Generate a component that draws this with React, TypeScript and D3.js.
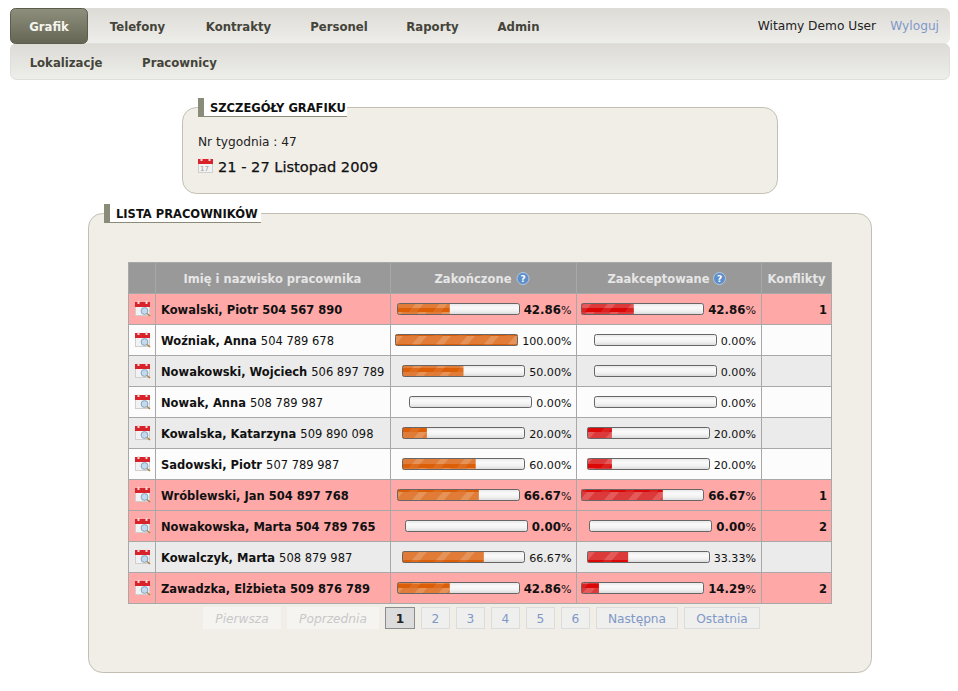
import * as d3 from 'd3';
import React, { useEffect, useRef } from 'react';

const menuTabs = ['Grafik', 'Telefony', 'Kontrakty', 'Personel', 'Raporty', 'Admin'];
const subTabs = ['Lokalizacje', 'Pracownicy'];
const headers = ['', 'Imię i nazwisko pracownika', 'Zakończone', 'Zaakceptowane', 'Konflikty'];
const names = ['Kowalski, Piotr', 'Woźniak, Anna', 'Nowakowski, Wojciech', 'Nowak, Anna', 'Kowalska, Katarzyna', 'Sadowski, Piotr', 'Wróblewski, Jan', 'Nowakowska, Marta', 'Kowalczyk, Marta', 'Zawadzka, Elżbieta'];
const phones = ['504 567 890', '504 789 678', '506 897 789', '508 789 987', '509 890 098', '507 789 987', '504 897 768', '504 789 765', '508 879 987', '509 876 789'];
const finished = [42.86, 100, 50, 0, 20, 60, 66.67, 0, 66.67, 42.86];
const accepted = [42.86, 0, 0, 0, 20, 20, 66.67, 0, 33.33, 14.29];
const conflicts = [1, 0, 0, 0, 0, 0, 1, 2, 0, 2];
const pages = ['Pierwsza', 'Poprzednia', '1', '2', '3', '4', '5', '6', 'Następna', 'Ostatnia'];

const font = '"DejaVu Sans", sans-serif';
const boldSize = 11.5;
const textSize = 12.2;
const smallSize = 11.1;
const labelBoldSize = 11.8;

const App: React.FC = () => {
  const ref = useRef<SVGSVGElement>(null);

  useEffect(() => {
    if (!ref.current) return;
    const svg = d3.select(ref.current);
    svg.selectAll('*').remove();
    svg.attr('font-family', font).attr('font-size', textSize);

    const defs = svg.append('defs');
    const gradient = (id: string, stops: string[]) => {
      const g = defs.append('linearGradient').attr('id', id).attr('x1', 0).attr('y1', 0).attr('x2', 0).attr('y2', 1);
      stops.forEach((c, i) => g.append('stop').attr('offset', i / (stops.length - 1)).attr('stop-color', c));
    };
    gradient('nav', ['#dcdbd6', '#eeeeea']);
    gradient('active', ['#8e8f7c', '#646553']);
    gradient('track', ['#e6e6e6', '#fafafa', '#f2f2f2', '#d8d8d8']);

    // diagonal stripes on the progress fill
    const stripes = (id: string, base: string, light: string, lighter: string) => {
      const p = defs.append('pattern').attr('id', id).attr('width', 24).attr('height', 12)
        .attr('patternUnits', 'userSpaceOnUse');
      p.append('rect').attr('width', 24).attr('height', 12).attr('fill', base);
      p.append('rect').attr('width', 24).attr('height', 8).attr('fill', light);
      p.append('path').attr('d', 'M4 8 L11 0 L19 0 L12 8 Z').attr('fill', lighter);
      p.append('path').attr('d', 'M1 12 L4 8 L12 8 L9 12 Z').attr('fill', light).attr('opacity', 0.5);
    };
    stripes('orange', '#dc5f08', '#e07c38', '#e59358');
    stripes('red', '#dc0808', '#dc3a3a', '#e45a5a');

    const measure = (text: string, weight = 'normal', size = textSize) => {
      const t = svg.append('text').attr('font-weight', weight).attr('font-size', size).text(text);
      const w = (t.node() as SVGTextElement).getComputedTextLength();
      t.remove();
      return w;
    };

    const calendar = (x: number, y: number, search: boolean) => {
      const g = svg.append('g').attr('transform', `translate(${x},${y})`);
      g.append('rect').attr('x', 0.5).attr('y', 1.5).attr('width', 14).attr('height', 13).attr('fill', '#f2f2f2').attr('stroke', '#cfcfcf');
      g.append('rect').attr('x', 0).attr('y', 1).attr('width', 15).attr('height', 5).attr('fill', '#d8232a');
      [3.5, 11.5].forEach(cx => g.append('rect').attr('x', cx - 1).attr('y', 0).attr('width', 2).attr('height', 3).attr('fill', '#f4dcdc'));
      if (search) {
        g.append('circle').attr('cx', 9.5).attr('cy', 10).attr('r', 3.4).attr('fill', '#c4d9ec').attr('stroke', '#84a4c4');
        g.append('line').attr('x1', 12).attr('y1', 12.5).attr('x2', 15).attr('y2', 15).attr('stroke', '#b08040').attr('stroke-width', 1.5);
      } else {
        g.append('text').attr('x', 6.5).attr('y', 13).attr('font-size', 7).attr('text-anchor', 'middle').attr('fill', '#999').text('17');
      }
    };

    // top navigation
    svg.append('rect').attr('x', 10).attr('y', 8).attr('width', 940).attr('height', 36).attr('rx', 6).attr('fill', 'url(#nav)');
    svg.append('rect').attr('x', 10.5).attr('y', 43.5).attr('width', 939).attr('height', 36).attr('rx', 6).attr('fill', 'url(#nav)').attr('stroke', '#dededa');
    svg.append('rect').attr('x', 10.5).attr('y', 8.5).attr('width', 77).attr('height', 35).attr('rx', 5).attr('fill', 'url(#active)').attr('stroke', '#5c5d4c');
    const tabCenters = [49, 137.5, 238.5, 339, 432.5, 518.5];
    menuTabs.forEach((t, i) => {
      svg.append('text').attr('x', tabCenters[i]).attr('y', 31).attr('text-anchor', 'middle').attr('font-weight', 'bold')
        .attr('font-size', 11.7).attr('fill', i === 0 ? '#f4f4ee' : '#44443a').text(t);
    });
    const subCenters = [66, 179.5];
    subTabs.forEach((t, i) => {
      svg.append('text').attr('x', subCenters[i]).attr('y', 67).attr('text-anchor', 'middle').attr('font-weight', 'bold')
        .attr('font-size', 11.7).attr('fill', '#44443a').text(t);
    });
    svg.append('text').attr('x', 876).attr('y', 30).attr('text-anchor', 'end').attr('fill', '#222').text('Witamy Demo User');
    svg.append('text').attr('x', 939).attr('y', 30).attr('text-anchor', 'end').attr('fill', '#8098c8').text('Wyloguj');

    // fieldset style panels
    const panel = (x: number, y: number, w: number, h: number, title: string, legendX: number, legendEnd: number) => {
      svg.append('rect').attr('x', x + 0.5).attr('y', y + 0.5).attr('width', w - 1).attr('height', h - 1).attr('rx', 14)
        .attr('fill', '#f1eee8').attr('stroke', '#c2bfb2');
      svg.append('rect').attr('x', legendX).attr('y', y - 9).attr('width', legendEnd - legendX).attr('height', 18).attr('fill', '#fff');
      svg.append('rect').attr('x', legendX).attr('y', y - 9).attr('width', 6).attr('height', 19).attr('fill', '#8a8b78');
      svg.append('line').attr('x1', legendX + 6).attr('x2', legendEnd).attr('y1', y + 9.5).attr('y2', y + 9.5).attr('stroke', '#8a8b78');
      svg.append('text').attr('x', legendX + 12).attr('y', y + 5).attr('font-weight', 'bold').attr('font-size', boldSize).attr('fill', '#111').text(title);
    };
    panel(182, 107, 596, 87, 'SZCZEGÓŁY GRAFIKU', 198, 347);
    svg.append('text').attr('x', 198).attr('y', 146).attr('fill', '#222').text('Nr tygodnia : 47');
    calendar(198, 158, false);
    svg.append('text').attr('x', 218).attr('y', 172).attr('font-size', 14.6).attr('fill', '#111')
      .attr('stroke', '#111').attr('stroke-width', 0.25).text('21 - 27 Listopad 2009');

    panel(88, 213, 784, 460, 'LISTA PRACOWNIKÓW', 104, 261);

    // table
    const columns = [128, 155, 390, 576, 761, 832];
    const headerTop = 262;
    const rowIds = names.map((_, i) => i);
    const y = d3.scaleBand<number>().domain(rowIds).range([293.5, 603.5]);
    const gridColor = '#a8a8a8';

    svg.append('rect').attr('x', columns[0]).attr('y', headerTop).attr('width', columns[5] - columns[0]).attr('height', 31.5).attr('fill', '#999');
    headers.forEach((h, i) => {
      if (!h) return;
      const mid = (columns[i] + columns[i + 1]) / 2;
      const hasHelp = i === 2 || i === 3;
      svg.append('text').attr('x', hasHelp ? mid - 10 : mid).attr('y', 283).attr('text-anchor', 'middle')
        .attr('font-weight', 'bold').attr('font-size', boldSize).attr('fill', '#e6e6e6').text(h);
      if (hasHelp) {
        const cx = mid + 40 + (i === 3 ? 11 : 0);
        svg.append('circle').attr('cx', cx).attr('cy', 278.5).attr('r', 6).attr('fill', '#5f8fcb').attr('stroke', '#b4c8e0');
        svg.append('text').attr('x', cx).attr('y', 282).attr('font-size', 9).attr('font-weight', 'bold').attr('text-anchor', 'middle').attr('fill', '#fff').text('?');
      }
    });

    const pct = d3.scaleLinear().domain([0, 100]).range([0, 122]);
    const bar = (rightEdge: number, rowMid: number, value: number, fill: string, strong: boolean) => {
      const digits = value.toFixed(2);
      const weight = strong ? 'bold' : 'normal';
      const digitSize = strong ? labelBoldSize : smallSize;
      const labelW = measure(digits, weight, digitSize) + measure('%', 'normal', smallSize);
      const bx = Math.round(rightEdge - labelW - 4 - 123);
      const by = Math.round(rowMid) - 6;
      svg.append('rect').attr('x', bx + 0.5).attr('y', by + 0.5).attr('width', 122).attr('height', 11).attr('rx', 2).attr('fill', 'url(#track)');
      if (value > 0) {
        svg.append('rect').attr('x', bx + 0.5).attr('y', by + 0.5).attr('width', pct(value)).attr('height', 11)
          .attr('fill', `url(#${fill})`);
      }
      svg.append('rect').attr('x', bx + 0.5).attr('y', by + 0.5).attr('width', 122).attr('height', 11).attr('rx', 2)
        .attr('fill', 'none').attr('stroke', '#666');
      const t = svg.append('text').attr('x', rightEdge).attr('y', rowMid + 4.5).attr('text-anchor', 'end')
        .attr('font-size', smallSize).attr('fill', '#111');
      t.append('tspan').attr('font-weight', weight).attr('font-size', digitSize).text(digits);
      t.append('tspan').text('%');
    };

    rowIds.forEach(i => {
      const top = y(i) as number;
      const h = y.bandwidth();
      const mid = top + h / 2;
      const hot = conflicts[i] > 0;
      const bg = hot ? '#ffa8a8' : i % 2 === 1 ? '#fcfcfc' : '#ebebeb';
      svg.append('rect').attr('x', columns[0]).attr('y', top).attr('width', columns[5] - columns[0]).attr('height', h).attr('fill', bg);
      calendar(135, Math.round(mid) - 8, true);
      const t = svg.append('text').attr('x', 161).attr('y', mid + 4.5).attr('fill', '#111');
      t.append('tspan').attr('font-weight', 'bold').attr('font-size', boldSize).text(names[i] + ' ');
      t.append('tspan').attr('font-weight', hot ? 'bold' : 'normal').attr('font-size', hot ? boldSize : 11.5).text(phones[i]);
      bar(571.5, mid, finished[i], 'orange', hot);
      bar(756, mid, accepted[i], 'red', hot);
      if (hot) {
        svg.append('text').attr('x', 827).attr('y', mid + 4.5).attr('text-anchor', 'end').attr('font-weight', 'bold').attr('font-size', boldSize).attr('fill', '#111').text(conflicts[i]);
      }
    });

    // grid lines
    svg.append('g').selectAll('line').data([headerTop + 0.5, ...rowIds.map(i => y(i) as number), 603.5]).enter().append('line')
      .attr('x1', columns[0]).attr('x2', columns[5]).attr('y1', d => d).attr('y2', d => d).attr('stroke', gridColor);
    svg.append('g').selectAll('line').data(columns.map((c, i) => (i === 5 ? c - 0.5 : c + 0.5))).enter().append('line')
      .attr('x1', d => d).attr('x2', d => d).attr('y1', headerTop).attr('y2', 604).attr('stroke', gridColor);

    // pagination
    const widths = pages.map((p, i) => Math.round(measure(p) + (i < 2 ? 25 : i > 7 ? 24 : p === '1' ? 22 : 21)));
    const total = d3.sum(widths) + 6 * (pages.length - 1);
    let px = Math.round(481 - total / 2);
    pages.forEach((p, i) => {
      const disabled = i < 2;
      const current = p === '1';
      svg.append('rect').attr('x', px + 0.5).attr('y', 607.5).attr('width', widths[i] - 1).attr('height', 21)
        .attr('fill', disabled ? '#f5f4f1' : current ? '#dcdcdc' : '#efefed')
        .attr('stroke', disabled ? '#f5f4f1' : current ? '#8c8c8c' : '#dcdcdc');
      svg.append('text').attr('x', px + widths[i] / 2).attr('y', 622.5).attr('text-anchor', 'middle')
        .attr('font-style', disabled ? 'italic' : 'normal').attr('font-weight', current ? 'bold' : 'normal')
        .attr('fill', disabled ? '#c8c8c8' : current ? '#222' : '#8098c8').text(p);
      px += widths[i] + 6;
    });
  }, []);

  return <svg ref={ref} width={958} height={691} style={{ position: 'absolute', left: 0, top: 0, display: 'block', background: '#fff' }} />;
};

export default App;
